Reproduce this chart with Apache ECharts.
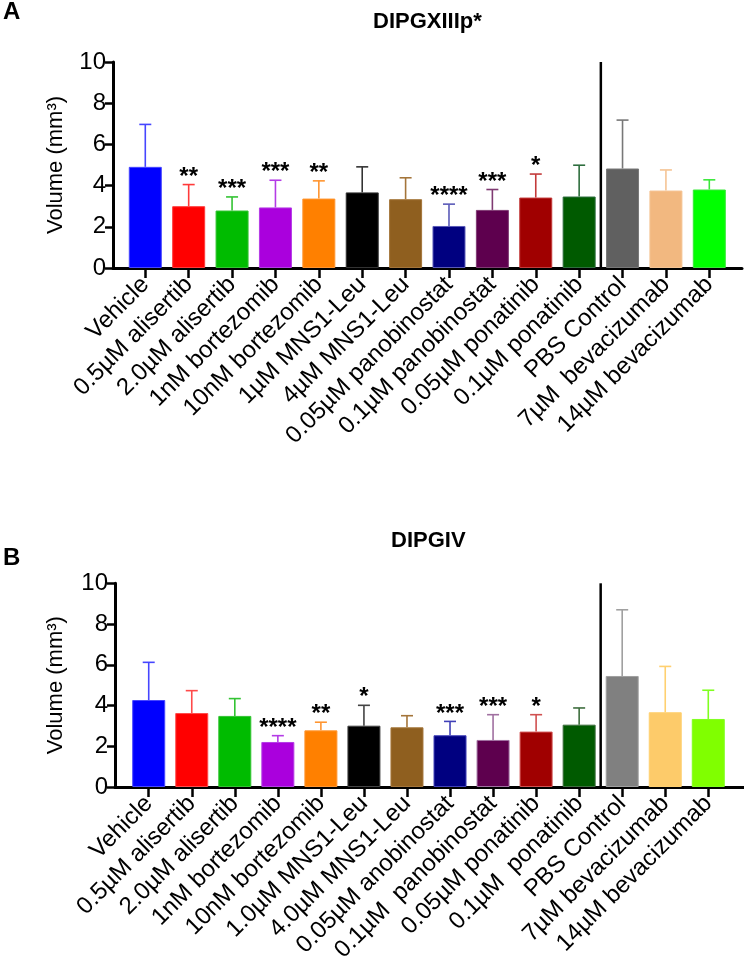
<!DOCTYPE html>
<html>
<head>
<meta charset="utf-8">
<script src="https://cdn.jsdelivr.net/npm/echarts@6/dist/echarts.min.js"></script>
<style>
html, body { margin: 0; padding: 0; background: #fff; }
#chart { width: 744px; height: 959px; }
</style>
</head>
<body>
<div id="chart"></div>
<script>
// panel A - DIPGXIIIp*
const categoriesA = ['Vehicle', '0.5µM alisertib', '2.0µM alisertib', '1nM bortezomib', '10nM bortezomib',
  '1µM MNS1-Leu', '4µM MNS1-Leu', '0.05µM panobinostat', '0.1µM panobinostat', '0.05µM ponatinib',
  '0.1µM ponatinib', 'PBS Control', '7µM  bevacizumab', '14µM bevacizumab'];
const meansA = [4.91, 3.0, 2.79, 2.94, 3.37, 3.67, 3.34, 2.04, 2.82, 3.42, 3.47, 4.83, 3.76, 3.81];
const sdA = [2.06, 1.05, 0.66, 1.32, 0.86, 1.24, 1.04, 1.06, 0.99, 1.14, 1.52, 2.35, 1.0, 0.47];
const starsA = ['', '**', '***', '***', '**', '', '', '****', '***', '*', '', '', '', ''];

// panel B - DIPGIV
const categoriesB = ['Vehicle', '0.5µM alisertib', '2.0µM alisertib', '1nM bortezomib', '10nM bortezomib',
  '1.0µM MNS1-Leu', '4.0µM MNS1-Leu', '0.05µM anobinostat', '0.1µM  panobinostat', '0.05µM ponatinib',
  '0.1µM  ponatinib', 'PBS Control', '7µM bevacizumab', '14µM bevacizumab'];
const meansB = [4.27, 3.63, 3.49, 2.21, 2.78, 3.01, 2.93, 2.54, 2.31, 2.72, 3.06, 5.45, 3.67, 3.34];
const sdB = [1.85, 1.10, 0.85, 0.31, 0.40, 1.00, 0.57, 0.68, 1.24, 0.83, 0.82, 3.25, 2.25, 1.41];
const starsB = ['', '', '', '****', '**', '*', '', '***', '***', '*', '', '', '', ''];

// control group starts after this index
const splitAfter = 10;

const yTicks = { min: 0, max: 10, interval: 2 };

const colorsA = ['#0000ff', '#ff0000', '#00bb00', '#aa00dd', '#ff8000', '#000000', '#8f5f1f',
  '#000080', '#5e004e', '#a00000', '#005a00', '#606060', '#f2b880', '#00ff00'];
const whiskA = ['#4646ff', '#ff3a3a', '#33c333', '#b43ce6', '#ff9530', '#333333', '#a4753a',
  '#5a5ab8', '#7f3a72', '#c33a3a', '#2e6e3e', '#787878', '#f5c494', '#3ae83a'];
const colorsB = ['#0000ff', '#ff0000', '#00bb00', '#aa00dd', '#ff8000', '#000000', '#8f5f1f',
  '#000080', '#5e004e', '#a00000', '#005a00', '#808080', '#fdcb6a', '#80ff00'];
const whiskB = ['#4646ff', '#ff4a4a', '#33c333', '#b43ce6', '#ff9530', '#444444', '#a4753a',
  '#4040b8', '#a070a0', '#d05050', '#3e6e3e', '#a0a0a0', '#ffd070', '#80ff20'];

const font = 'Liberation Sans, Arial, sans-serif';
const black = '#000';

function errorRender(sd, stars, whisk) {
  return function (params, api) {
    const i = api.value(0);
    const m = api.value(1);
    const base = api.coord([i, m]);
    const top = api.coord([i, m + sd[i]]);
    const cap = 6;
    const children = [
      { type: 'line', shape: { x1: base[0], y1: base[1], x2: top[0], y2: top[1] }, style: { stroke: whisk[i], lineWidth: 1.6 } },
      { type: 'line', shape: { x1: top[0] - cap, y1: top[1], x2: top[0] + cap, y2: top[1] }, style: { stroke: whisk[i], lineWidth: 1.6 } }
    ];
    if (stars[i]) {
      children.push({
        type: 'text',
        x: top[0],
        y: top[1] - 7.5,
        style: { text: stars[i], fill: black, font: 'bold 24px ' + font, align: 'center', verticalAlign: 'middle' }
      });
    }
    return { type: 'group', children: children };
  };
}

function splitRender(params, api) {
  const a = api.coord([splitAfter, yTicks.max]);
  const b = api.coord([splitAfter + 1, 0]);
  const x = (a[0] + b[0]) / 2;
  return {
    type: 'line',
    shape: { x1: x, y1: a[1], x2: x, y2: b[1] + 2 },
    style: { stroke: black, lineWidth: 2.5 }
  };
}

function panel(p, idx) {
  const g = idx * 2;
  const grids = [
    { left: p.axisX, right: 744 - p.axisEnd, top: p.top, bottom: 959 - p.zero, outerBoundsMode: 'none', containLabel: false },
    { left: p.bandStart, right: 744 - p.bandEnd, top: p.top, bottom: 959 - p.zero, outerBoundsMode: 'none', containLabel: false }
  ];
  const xAxes = [
    {
      gridIndex: g, type: 'value', min: 0, max: 1,
      axisLine: { show: true, onZero: false, lineStyle: { color: black, width: 3 } },
      axisTick: { show: false }, axisLabel: { show: false }, splitLine: { show: false }
    },
    {
      gridIndex: g + 1, type: 'category', data: p.cats,
      axisLine: { show: false },
      axisTick: { show: true, alignWithLabel: true, length: 10, lineStyle: { color: black, width: 2.5 } },
      axisLabel: { rotate: 45, interval: 0, fontSize: 24, color: black, margin: 13, fontFamily: font }
    }
  ];
  const yAxes = [
    {
      gridIndex: g, type: 'value', min: yTicks.min, max: yTicks.max, interval: yTicks.interval,
      axisLine: { show: true, lineStyle: { color: black, width: 3 } },
      axisTick: { show: true, length: 8, lineStyle: { color: black, width: 2.5 } },
      axisLabel: { fontSize: 24, color: black, margin: 7, fontFamily: font },
      splitLine: { show: false },
      name: 'Volume (mm³)', nameLocation: 'middle', nameGap: p.nameGap,
      nameTextStyle: { fontSize: 22, color: black, fontFamily: font }
    },
    { gridIndex: g + 1, type: 'value', min: yTicks.min, max: yTicks.max, show: false }
  ];
  const series = [
    {
      type: 'bar', xAxisIndex: g + 1, yAxisIndex: g + 1, barWidth: 33,
      data: p.means.map((v, i) => ({ value: v, itemStyle: { color: p.colors[i], borderColor: p.whisk[i], borderWidth: 1 } }))
    },
    {
      type: 'custom', xAxisIndex: g + 1, yAxisIndex: g + 1, z: 3,
      data: p.means.map((v, i) => [i, v]),
      renderItem: errorRender(p.sd, p.stars, p.whisk)
    },
    {
      type: 'custom', xAxisIndex: g + 1, yAxisIndex: g + 1, z: 4,
      data: [[splitAfter, 0]],
      renderItem: splitRender
    }
  ];
  return { grids, xAxes, yAxes, series };
}

const pa = panel({
  cats: categoriesA, means: meansA, sd: sdA, stars: starsA, colors: colorsA, whisk: whiskA,
  axisX: 113, axisEnd: 742, bandStart: 123.6, bandEnd: 731, top: 62, zero: 268, nameGap: 46
}, 0);
const pb = panel({
  cats: categoriesB, means: meansB, sd: sdB, stars: starsB, colors: colorsB, whisk: whiskB,
  axisX: 115, axisEnd: 744, bandStart: 127.2, bandEnd: 729.8, top: 583.3, zero: 787, nameGap: 48
}, 1);

const chart = echarts.init(document.getElementById('chart'));
chart.setOption({
  animation: false,
  backgroundColor: '#fff',
  textStyle: { fontFamily: font },
  title: [
    { text: 'A', left: 3, top: 0, padding: 0, textStyle: { fontSize: 24, fontWeight: 'bold', color: black, fontFamily: font } },
    { text: 'DIPGXIIIp*', left: 373, top: 11, padding: 0, textStyle: { fontSize: 22, fontWeight: 'bold', color: black, fontFamily: font } },
    { text: 'B', left: 3, top: 546, padding: 0, textStyle: { fontSize: 24, fontWeight: 'bold', color: black, fontFamily: font } },
    { text: 'DIPGIV', left: 391, top: 530, padding: 0, textStyle: { fontSize: 22, fontWeight: 'bold', color: black, fontFamily: font } }
  ],
  grid: pa.grids.concat(pb.grids),
  xAxis: pa.xAxes.concat(pb.xAxes),
  yAxis: pa.yAxes.concat(pb.yAxes),
  series: pa.series.concat(pb.series)
});
</script>
</body>
</html>
